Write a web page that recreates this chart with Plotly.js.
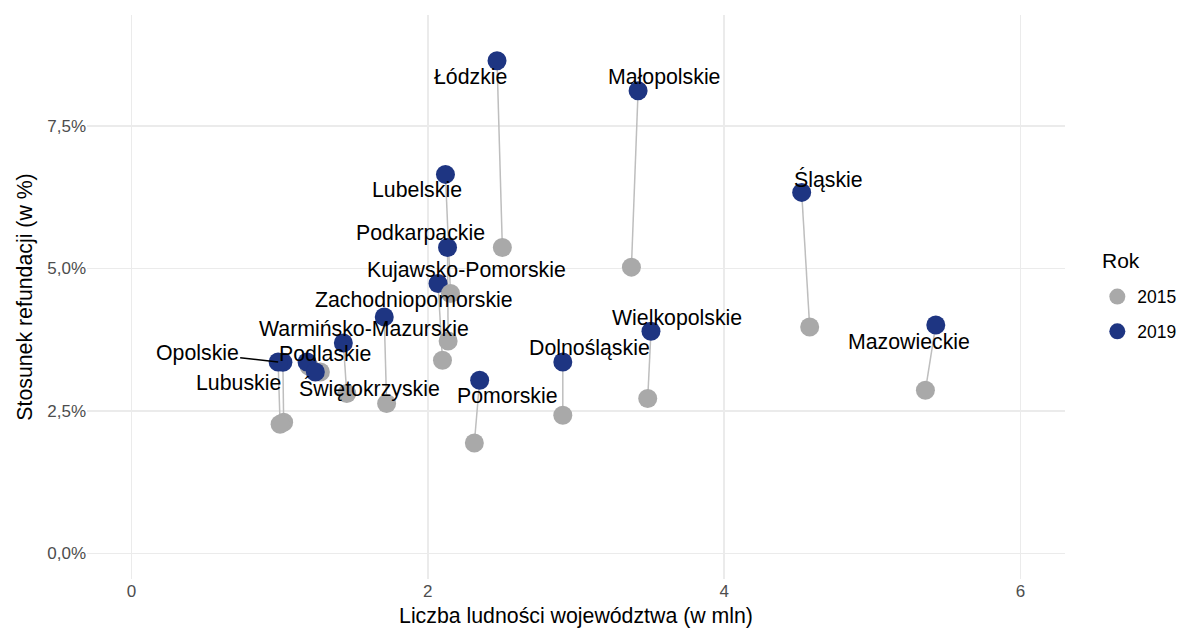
<!DOCTYPE html>
<html>
<head>
<meta charset="utf-8">
<script src="https://cdn.plot.ly/plotly-3.0.1.min.js"></script>
<style>html,body{margin:0;padding:0;background:#fff;}#chart{width:1192px;height:632px;}</style>
</head>
<body>
<div id="chart"></div>
<script>
// Regions (data order)
const regions = ["Dolnośląskie","Kujawsko-Pomorskie","Lubelskie","Lubuskie","Łódzkie","Małopolskie","Mazowieckie","Opolskie","Podkarpackie","Podlaskie","Pomorskie","Śląskie","Świętokrzyskie","Warmińsko-Mazurskie","Wielkopolskie","Zachodniopomorskie"];
// Population (mln) and refund ratio (%) for 2015 and 2019
const pop2015 = [2.911,2.099,2.153,1.027,2.503,3.374,5.358,1.003,2.137,1.199,2.314,4.577,1.275,1.453,3.484,1.722];
const ratio2015 = [2.424,3.390,4.562,2.301,5.370,5.024,2.863,2.266,3.729,3.285,1.937,3.975,3.185,2.805,2.717,2.630];
const pop2019 = [2.911,2.069,2.119,1.022,2.467,3.419,5.428,0.990,2.133,1.185,2.350,4.523,1.241,1.430,3.506,1.706];
const ratio2019 = [3.360,4.737,6.652,3.355,8.648,8.121,4.010,3.360,5.370,3.360,3.039,6.336,3.185,3.694,3.900,4.151];
const years = ["2015","2019"];
const legendTitle = "Rok";
const xTickVals = [0,2,4,6];
const xTickText = ["0","2","4","6"];
const yTickVals = [0,2.5,5,7.5];
const yTickText = ["0,0%","2,5%","5,0%","7,5%"];

// label offsets in pixels (placement only)
const labelShift = {
  "Dolnośląskie":[27,14],"Kujawsko-Pomorskie":[28,14],"Lubelskie":[-28,-16],"Lubuskie":[-44,-21],
  "Łódzkie":[-27,-16],"Małopolskie":[26,14],"Mazowieckie":[-27,-17],"Opolskie":[-81,-9],
  "Podkarpackie":[-27,14],"Podlaskie":[18,8],"Pomorskie":[28,-16],"Śląskie":[27,13],
  "Świętokrzyskie":[54,-17],"Warmińsko-Mazurskie":[21,14],"Wielkopolskie":[26,13],"Zachodniopomorskie":[30,17]
};

const GRAY = "#A9A9A9", NAVY = "#1E3582", LINE = "#BEBEBE";
const FONT = "Liberation Sans, Arial, sans-serif";

// segments
const lx = [], ly = [];
regions.forEach((r,i)=>{ lx.push(pop2015[i],pop2019[i],null); ly.push(ratio2015[i],ratio2019[i],null); });

// points ordered by region then year
const px = [], py = [], pc = [];
regions.forEach((r,i)=>{
  px.push(pop2015[i]); py.push(ratio2015[i]); pc.push(GRAY);
  px.push(pop2019[i]); py.push(ratio2019[i]); pc.push(NAVY);
});

const traces = [
  {x: lx, y: ly, mode: "lines", line: {color: LINE, width: 1.5}, showlegend: false, hoverinfo: "skip"},
  {x: px, y: py, mode: "markers", marker: {color: pc, size: 19, line: {width: 0}}, showlegend: false},
  {x: [null], y: [null], mode: "markers", name: years[0], legendgroup: "a", marker: {color: GRAY, size: 19}},
  {x: [null], y: [null], mode: "markers", name: years[1], legendgroup: "b", marker: {color: NAVY, size: 19}}
];

const annotations = regions.map((r,i)=>{
  const s = labelShift[r];
  if (r === "Opolskie") {
    return {x: pop2019[i], y: ratio2019[i], text: r, showarrow: true, ax: s[0], ay: s[1],
      arrowhead: 0, arrowwidth: 1.5, arrowcolor: "#000", standoff: 0,
      font: {family: FONT, size: 21.3, color: "#000"}};
  }
  return {x: pop2019[i], y: ratio2019[i], text: r, showarrow: false, xshift: s[0], yshift: s[1],
    font: {family: FONT, size: 21.3, color: "#000"}};
});
annotations.push({xref: "paper", yref: "paper", x: 1.036, y: 0.565, xanchor: "left", yanchor: "middle",
  text: legendTitle, showarrow: false, font: {family: FONT, size: 21, color: "#000"}});

const layout = {
  width: 1192, height: 632,
  margin: {l: 86.5, r: 125.5, t: 15, b: 53.4, pad: 0},
  paper_bgcolor: "#fff", plot_bgcolor: "#fff",
  font: {family: FONT},
  xaxis: {range: [-0.3, 6.3], tickvals: xTickVals, ticktext: xTickText, showgrid: true, gridcolor: "#EBEBEB", gridwidth: 1.4,
    zeroline: false, showline: false, ticks: "", tickfont: {family: FONT, size: 17, color: "#4D4D4D"},
    title: {text: "Liczba ludności województwa (w mln)", font: {family: FONT, size: 21.3, color: "#000"}, standoff: 8}},
  yaxis: {range: [-0.45, 9.45], tickvals: yTickVals, ticktext: yTickText, showgrid: true, gridcolor: "#EBEBEB", gridwidth: 1.4,
    zeroline: false, showline: false, ticks: "", tickfont: {family: FONT, size: 17, color: "#4D4D4D"},
    title: {text: "Stosunek refundacji (w %)", font: {family: FONT, size: 21.3, color: "#000"}, standoff: 8}},
  legend: {font: {family: FONT, size: 17.5, color: "#000"}, traceorder: "grouped", tracegroupgap: 9,
    x: 1.032, xanchor: "left", y: 0.4695, yanchor: "middle", bgcolor: "rgba(0,0,0,0)"},
  annotations: annotations,
  showlegend: true
};

Plotly.newPlot("chart", traces, layout, {displayModeBar: false, staticPlot: true});
</script>
</body>
</html>
